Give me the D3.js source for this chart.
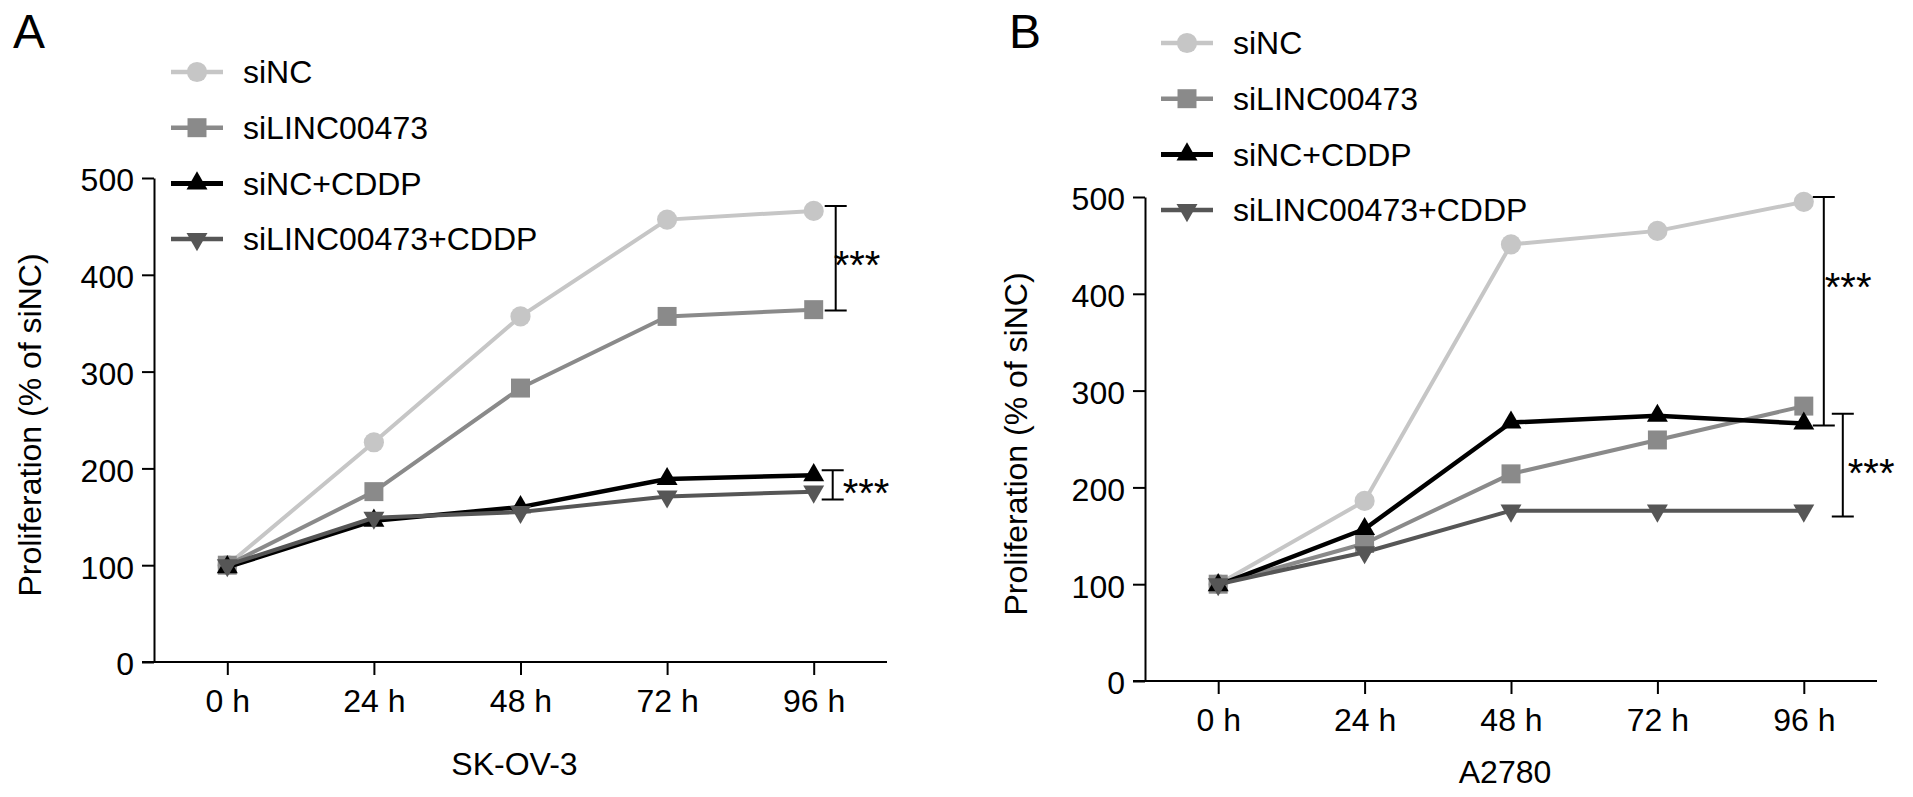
<!DOCTYPE html>
<html>
<head>
<meta charset="utf-8">
<title>Proliferation SK-OV-3 / A2780</title>
<script src="https://cdn.jsdelivr.net/npm/d3@7"></script>
<style>
  body { margin: 0; background: #fff; }
  text { font-family: "Liberation Sans", Arial, Helvetica, sans-serif; fill: #000; }
  .axis path, .axis line { stroke: #000; stroke-width: 2; }
  .axis text { font-size: 32px; }
</style>
</head>
<body>
<script>
// data
const hours = [0, 24, 48, 72, 96];
const hourLabels = ["0 h", "24 h", "48 h", "72 h", "96 h"];
const yTicks = [0, 100, 200, 300, 400, 500];
const seriesNames = ["siNC", "siLINC00473", "siNC+CDDP", "siLINC00473+CDDP"];

// panel A, SK-OV-3 (one row per series)
const skov3Values = [
  [100, 227, 357, 457, 466],
  [100, 176, 283, 357, 364],
  [98, 146, 160, 189, 193],
  [100, 149, 155, 171, 176]
];
// panel B, A2780
const a2780Values = [
  [100, 186, 451, 465, 495],
  [100, 142, 214, 249, 284],
  [99, 157, 267, 274, 266],
  [100, 133, 176, 176, 176]
];

// significance brackets: [top, bottom, label level]
const skov3Brackets = [[471, 363, 418], [198, 168, 183]];
const a2780Brackets = [[500, 264, 415], [276, 170, 223]];
const bracketLabels = ["***", "***"];

// styles of the four series
var colors = ["#c6c6c6", "#8a8a8a", "#000000", "#565656"];
var symbols = [d3.symbolCircle, d3.symbolSquare, d3.symbolTriangle, d3.symbolTriangle];
var symbolSizes = [320, 360, 190, 190];
var symbolRotate = [0, 0, 0, 180];
var lineWidths = [4, 4, 4.5, 4];

var w = 1913;
var h = 797;

var panels = [
  {letter: "A", letterX: 13, values: skov3Values, brackets: skov3Brackets,
   cell: "SK-OV-3", left: 154, right: 887, top: 178, bottom: 662,
   legendX: 171, legendY: 72, cellY: 775, labelX: 41,
   bracketDx: [22, 19], labelDx: [-2, 10]},
  {letter: "B", letterX: 1009, values: a2780Values, brackets: a2780Brackets,
   cell: "A2780", left: 1145, right: 1877, top: 197, bottom: 681,
   legendX: 1161, legendY: 43, cellY: 783, labelX: 1027,
   bracketDx: [20, 39], labelDx: [1, 5]}
];

var svg = d3.select("body")
            .append("svg")
            .attr("width", w)
            .attr("height", h);

panels.forEach(function(p) {
  var g = svg.append("g");

  // scales: the x axis runs 12 h past each end
  var xScale = d3.scaleLinear()
                 .domain([-12, 108])
                 .range([p.left, p.right]);
  var yScale = d3.scaleLinear()
                 .domain([0, 500])
                 .range([p.bottom, p.top]);

  // panel letter
  g.append("text")
   .attr("x", p.letterX)
   .attr("y", 48)
   .style("font-size", "48px")
   .text(p.letter);

  // x axis
  var xAxis = g.append("g")
               .attr("class", "axis")
               .attr("transform", "translate(0," + p.bottom + ")")
               .call(d3.axisBottom(xScale)
                       .tickValues(hours)
                       .tickFormat(function(d, i) { return hourLabels[i]; })
                       .tickSize(13)
                       .tickSizeOuter(0)
                       .tickPadding(14));
  // the base line starts under the y ticks
  xAxis.select(".domain")
       .attr("d", "M" + (p.left - 12) + ",0H" + p.right);

  // y axis
  g.append("g")
   .attr("class", "axis")
   .attr("transform", "translate(" + p.left + ",0)")
   .call(d3.axisLeft(yScale)
           .tickValues(yTicks)
           .tickSize(12)
           .tickSizeOuter(0)
           .tickPadding(8))
   .selectAll("text")
   .attr("dy", "0.4em");

  // y axis label
  g.append("text")
   .attr("transform", "translate(" + p.labelX + "," + ((p.top + p.bottom) / 2 + 5) + ") rotate(-90)")
   .style("text-anchor", "middle")
   .style("font-size", "32px")
   .text("Proliferation (% of siNC)");

  // x axis label (cell line)
  g.append("text")
   .attr("x", (p.left - 12 + p.right) / 2)
   .attr("y", p.cellY)
   .style("text-anchor", "middle")
   .style("font-size", "32px")
   .text(p.cell);

  // lines and markers
  var line = d3.line()
               .x(function(d, i) { return xScale(hours[i]); })
               .y(function(d) { return yScale(d); });

  p.values.forEach(function(series, s) {
    g.append("path")
     .attr("d", line(series))
     .attr("fill", "none")
     .attr("stroke", colors[s])
     .attr("stroke-width", lineWidths[s])
     .attr("stroke-linejoin", "round");

    g.selectAll(".pt" + s)
     .data(series)
     .enter()
     .append("path")
     .attr("class", "pt" + s)
     .attr("d", d3.symbol().type(symbols[s]).size(symbolSizes[s]))
     .attr("transform", function(d, i) {
       return "translate(" + xScale(hours[i]) + "," + yScale(d) + ") rotate(" + symbolRotate[s] + ")";
     })
     .attr("fill", colors[s]);
  });

  // significance brackets
  p.brackets.forEach(function(b, k) {
    var bx = xScale(96) + p.bracketDx[k];
    g.append("path")
     .attr("d", "M" + (bx - 11) + "," + yScale(b[0]) + "H" + (bx + 11) +
                "M" + bx + "," + yScale(b[0]) + "V" + yScale(b[1]) +
                "M" + (bx - 11) + "," + yScale(b[1]) + "H" + (bx + 11))
     .attr("fill", "none")
     .attr("stroke", "#000")
     .attr("stroke-width", 2);
    g.append("text")
     .attr("x", bx + p.labelDx[k])
     .attr("y", yScale(b[2]) + 22)
     .style("font-size", "40px")
     .text(bracketLabels[k]);
  });

  // legend
  seriesNames.forEach(function(name, s) {
    var ly = p.legendY + s * 55.7;
    g.append("line")
     .attr("x1", p.legendX)
     .attr("x2", p.legendX + 52)
     .attr("y1", ly)
     .attr("y2", ly)
     .attr("stroke", colors[s])
     .attr("stroke-width", lineWidths[s] + 0.5);
    g.append("path")
     .attr("d", d3.symbol().type(symbols[s]).size(symbolSizes[s]))
     .attr("transform", "translate(" + (p.legendX + 26) + "," + ly + ") rotate(" + symbolRotate[s] + ")")
     .attr("fill", colors[s]);
    g.append("text")
     .attr("x", p.legendX + 72)
     .attr("y", ly)
     .attr("dy", "0.35em")
     .style("font-size", "32px")
     .text(name);
  });
});
</script>
</body>
</html>
